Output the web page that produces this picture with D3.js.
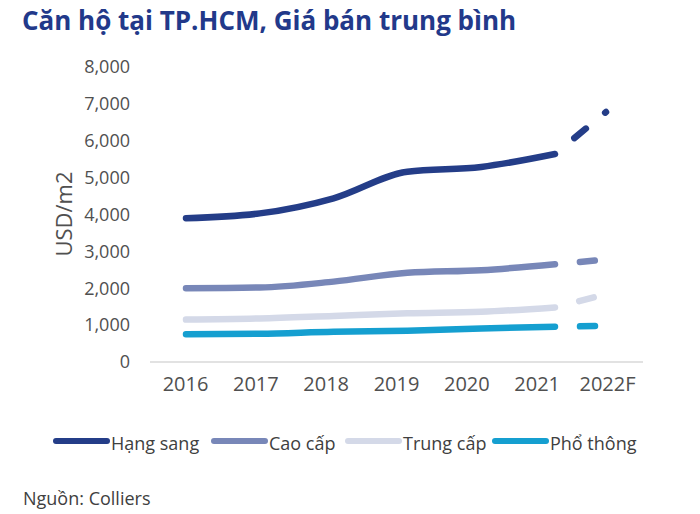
<!DOCTYPE html>
<html>
<head>
  <meta charset="utf-8">
  <title>Căn hộ tại TP.HCM</title>
  <script src="https://cdnjs.cloudflare.com/ajax/libs/d3/7.8.5/d3.min.js"></script>
  <style>
    body { margin: 0; background: #fff; }
    text { font-family: "Open Sans", sans-serif; }
  </style>
</head>
<body>
<script>
var width = 700,
    height = 514;

// du lieu doc tu hinh
var years = [2016, 2017, 2018, 2019, 2020, 2021];
var xLabels = ["2016", "2017", "2018", "2019", "2020", "2021", "2022F"];
var yTicks = [0, 1000, 2000, 3000, 4000, 5000, 6000, 7000, 8000];

var hangSang = [3900, 4030, 4440, 5160, 5290, 5640];
var caoCap   = [2000, 2020, 2180, 2420, 2490, 2650];
var trungCap = [1150, 1180, 1250, 1320, 1360, 1480];
var phoThong = [750, 765, 820, 850, 910, 955];

var duBao = [6780, 2780, 1840, 980]; // 2022F

var tenSeries = ["Hạng sang", "Cao cấp", "Trung cấp", "Phổ thông"];
var mau = ["#243d88", "#7887b8", "#d4d9e8", "#159fd0"];

var series = [hangSang, caoCap, trungCap, phoThong];

var svg = d3.select("body").append("svg").attr("width", width).attr("height", height);

// tieu de
svg.append("text")
   .attr("x", 22).attr("y", 30)
   .attr("font-size", 26).attr("font-weight", 700)
   .attr("fill", "#22398a")
   .text("Căn hộ tại TP.HCM, Giá bán trung bình");

var y = d3.scaleLinear().domain([0, 8000]).range([362, 67]);
var xAxis = d3.scalePoint().domain(xLabels).range([185, 607]);
var xLine = d3.scaleLinear().domain([2016, 2021]).range([186, 555]);

// truc y (chi nhan)
svg.append("g")
   .attr("transform", "translate(130,0)")
   .call(d3.axisLeft(y).tickValues(yTicks).tickFormat(d3.format(",")).tickSize(0).tickPadding(0))
   .call(g => g.select(".domain").remove())
   .selectAll("text")
   .attr("font-size", 18).attr("fill", "#505050")
   .attr("font-family", "Open Sans");

// duong 0
svg.append("line")
   .attr("x1", 150).attr("x2", 643)
   .attr("y1", y(0)).attr("y2", y(0))
   .attr("stroke", "#d9d9d9").attr("stroke-width", 1.5);

// truc x
svg.append("g")
   .attr("transform", "translate(0,377)")
   .call(d3.axisBottom(xAxis).tickSize(0).tickPadding(0))
   .call(g => g.select(".domain").remove())
   .selectAll("text")
   .attr("font-size", 20).attr("fill", "#505050")
   .attr("font-family", "Open Sans");

svg.append("text")
   .attr("transform", "translate(72,214) rotate(-90)")
   .attr("text-anchor", "middle")
   .attr("font-size", 22).attr("fill", "#505050")
   .text("USD/m2");

var line = d3.line()
   .x((d, i) => xLine(years[i]))
   .y(d => y(d))
   .curve(d3.curveMonotoneX);

series.forEach(function(s, k) {
  svg.append("path")
     .attr("d", line(s))
     .attr("fill", "none")
     .attr("stroke", mau[k])
     .attr("stroke-width", 6.5)
     .attr("stroke-linecap", "round");

  // du bao 2022F, net dut
  svg.append("line")
     .attr("x1", xLine(2021)).attr("y1", y(s[s.length - 1]))
     .attr("x2", xAxis("2022F") - 1).attr("y2", y(duBao[k]))
     .attr("stroke", mau[k])
     .attr("stroke-width", 6.5)
     .attr("stroke-linecap", "round")
     .attr("stroke-dasharray", "15 25")
     .attr("stroke-dashoffset", 15);
});

// chu giai
var legX = [56, 214, 348, 495];
tenSeries.forEach(function(t, k) {
  var g = svg.append("g").attr("transform", "translate(" + legX[k] + ",441)");
  g.append("line")
   .attr("x1", 0).attr("x2", 51)
   .attr("stroke", mau[k]).attr("stroke-width", 6).attr("stroke-linecap", "round");
  g.append("text")
   .attr("x", 55).attr("y", 9)
   .attr("font-size", 18).attr("fill", "#404040")
   .text(t);
});

svg.append("text")
   .attr("x", 23).attr("y", 505)
   .attr("font-size", 18).attr("fill", "#404040")
   .text("Nguồn: Colliers");
</script>
</body>
</html>
